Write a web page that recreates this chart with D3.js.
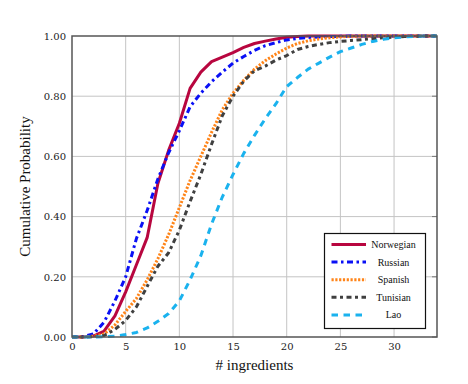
<!DOCTYPE html>
<html><head><meta charset="utf-8">
<script src="https://cdn.jsdelivr.net/npm/d3@7"></script>
<style>body{margin:0;background:#fff}svg{display:block}
.serif{font-family:'Liberation Serif','Times New Roman',serif}
.dserif{font-family:'DejaVu Serif','Liberation Serif',serif}
</style>
</head><body>
<svg id="c" width="468" height="384"></svg>
<script>
const xs = d3.range(0, 35);
const seriesNames = ["Norwegian", "Russian", "Spanish", "Tunisian", "Lao"];
const norwegian = [0,0,0.003,0.02,0.07,0.15,0.24,0.33,0.51,0.62,0.71,0.826,0.88,0.915,0.93,0.945,0.962,0.975,0.983,0.99,0.996,0.998,1,1,1,1,1,1,1,1,1,1,1,1,1];
const russian = [0,0.001,0.01,0.05,0.12,0.2,0.327,0.42,0.525,0.612,0.685,0.765,0.81,0.848,0.88,0.91,0.932,0.952,0.968,0.978,0.987,0.992,0.995,0.997,0.998,0.999,1,1,1,1,1,1,1,1,1];
const spanish = [0,0,0.003,0.01,0.04,0.085,0.128,0.19,0.26,0.34,0.43,0.52,0.6,0.68,0.755,0.81,0.853,0.89,0.918,0.94,0.96,0.975,0.984,0.99,0.994,0.997,0.999,1,1,1,1,1,1,1,1];
const tunisian = [0,0,0.001,0.005,0.025,0.055,0.1,0.168,0.235,0.28,0.355,0.45,0.54,0.64,0.735,0.8,0.85,0.885,0.9,0.92,0.935,0.955,0.965,0.972,0.978,0.982,0.985,0.988,0.991,0.994,0.996,0.998,0.999,1,1];
const lao = [0,0,0,0.001,0.003,0.008,0.015,0.03,0.052,0.078,0.12,0.19,0.27,0.375,0.465,0.54,0.61,0.67,0.725,0.775,0.832,0.862,0.89,0.91,0.93,0.948,0.96,0.972,0.982,0.989,0.994,0.997,0.999,1,1];
const xTicks = [0,5,10,15,20,25,30];
const yTicks = [0,0.2,0.4,0.6,0.8,1.0];

const values = [norwegian, russian, spanish, tunisian, lao];
const colors = ["#b8063f", "#0a10f5", "#ff8418", "#404040", "#1ab2ee"];
const dashes = [null, "6,3.5,2.5,3.5", "2.2,1.6", "5,3.5,3,3.5", "6.5,5.5"];

const svg = d3.select("#c");
const L = 72, R = 437, T = 36, B = 337;
const x = d3.scaleLinear().domain([0, 34]).range([L, R]);
const y = d3.scaleLinear().domain([0, 1]).range([B, T]);

const g = svg.append("g");
g.selectAll(".vg").data(xTicks.filter(d => d > 0)).enter().append("line")
  .attr("x1", d => x(d)).attr("x2", d => x(d)).attr("y1", T).attr("y2", B)
  .attr("stroke", "#c4c4c4").attr("stroke-width", 1);
g.selectAll(".hg").data(yTicks.filter(d => d > 0 && d < 1)).enter().append("line")
  .attr("x1", L).attr("x2", R).attr("y1", d => y(d)).attr("y2", d => y(d))
  .attr("stroke", "#c4c4c4").attr("stroke-width", 1);

g.selectAll(".rt").data(yTicks).enter().append("line")
  .attr("x1", R - 5).attr("x2", R).attr("y1", d => y(d)).attr("y2", d => y(d))
  .attr("stroke", "#777").attr("stroke-width", 1);

const line = d3.line().x((d, i) => x(xs[i])).y(d => y(d)).curve(d3.curveLinear);
values.forEach((v, k) => {
  svg.append("path").datum(v).attr("d", line)
    .attr("fill", "none").attr("stroke", colors[k]).attr("stroke-width", 3)
    .attr("stroke-linejoin", "round")
    .attr("stroke-dasharray", dashes[k]);
});

svg.append("rect").attr("x", L).attr("y", T).attr("width", R - L).attr("height", B - T)
  .attr("fill", "none").attr("stroke", "#555").attr("stroke-width", 1.5);

const xAxis = d3.axisBottom(x).tickValues(xTicks).tickSize(0).tickPadding(5).tickFormat(d3.format("d"));
const xa = svg.append("g").attr("transform", `translate(0,${B + 1})`).call(xAxis);
xa.attr("font-family", null).attr("font-size", null);
xa.select(".domain").remove();
xa.selectAll("text").attr("class", "dserif").style("font-size", "10px").attr("fill", "#222");

const yAxis = d3.axisLeft(y).tickValues(yTicks).tickSize(0).tickPadding(6).tickFormat(d3.format(".2f"));
const ya = svg.append("g").attr("transform", `translate(${L},0)`).call(yAxis);
ya.attr("font-family", null).attr("font-size", null);
ya.select(".domain").remove();
ya.selectAll("text").attr("class", "dserif").style("font-size", "10px").attr("fill", "#222");

svg.append("text").attr("class", "serif").attr("x", (L + R) / 2).attr("y", 370).attr("text-anchor", "middle")
  .style("font-size", "15px").attr("fill", "#111").text("# ingredients");
svg.append("text").attr("class", "serif").attr("transform", `translate(30,${(T + B) / 2}) rotate(-90)`).attr("text-anchor", "middle")
  .style("font-size", "15px").attr("fill", "#111").text("Cumulative Probability");

const lg = svg.append("g");
lg.append("rect").attr("x", 324.5).attr("y", 233.5).attr("width", 101).attr("height", 95)
  .attr("fill", "#fff").attr("stroke", "#111").attr("stroke-width", 1.2);
seriesNames.forEach((n, k) => {
  const yy = 244.5 + k * 17.6;
  lg.append("line").attr("x1", 331.5).attr("x2", 366).attr("y1", yy).attr("y2", yy)
    .attr("stroke", colors[k]).attr("stroke-width", 3).attr("stroke-dasharray", dashes[k]);
  lg.append("text").attr("class", "serif").attr("x", 393.5).attr("y", yy + 3.5).attr("text-anchor", "middle")
    .style("font-size", "10px").attr("fill", "#111").text(n);
});
</script>
</body></html>
